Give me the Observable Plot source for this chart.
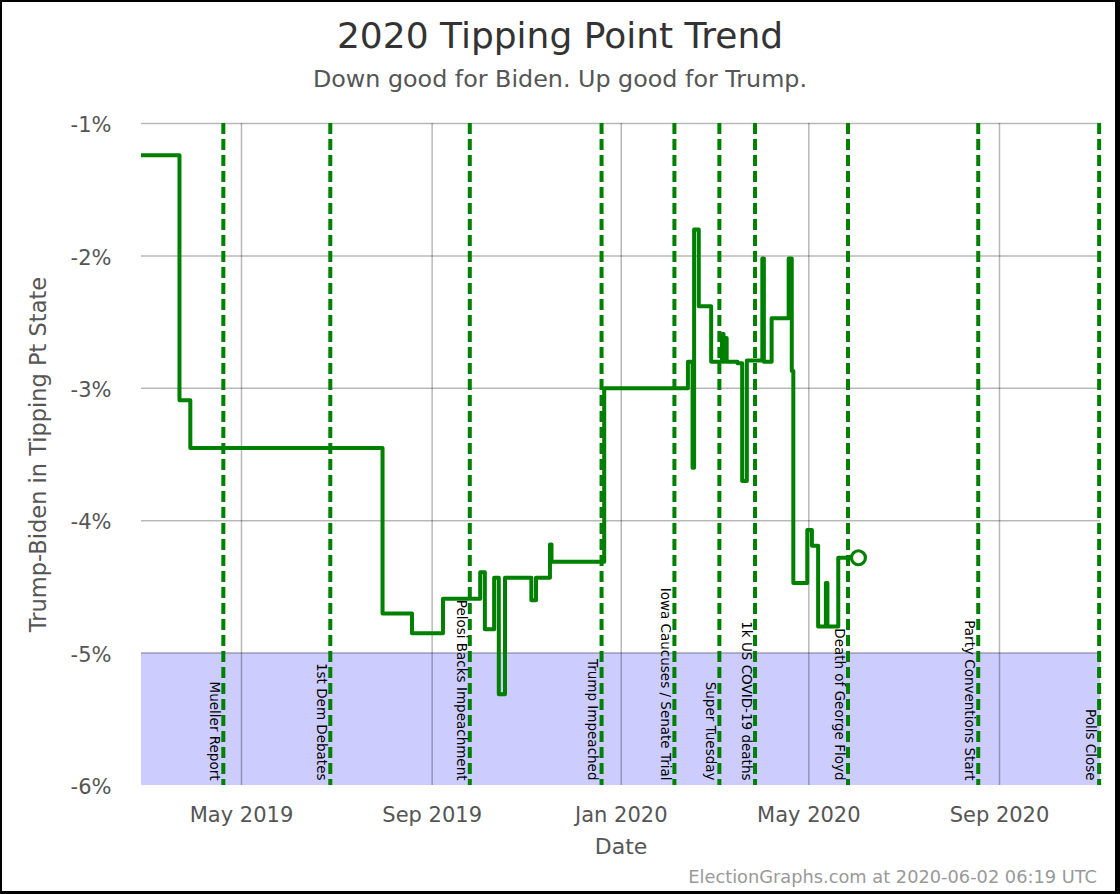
<!DOCTYPE html>
<html><head><meta charset="utf-8">
<script src="https://cdn.jsdelivr.net/npm/d3@7"></script>
<script src="https://cdn.jsdelivr.net/npm/@observablehq/plot@0.6"></script>
<style>
html,body{margin:0;padding:0;background:#fff;}
#wrap{position:relative;width:1120px;height:894px;overflow:hidden;font-family:"DejaVu Sans",sans-serif;background:#fff;}
#chart{position:absolute;left:0;top:0;}
.ttl{position:absolute;left:0;width:1120px;text-align:center;line-height:1;white-space:nowrap;}
#title{top:18px;font-size:36px;color:#333;}
#subtitle{top:68px;font-size:23.8px;color:#555;}
#footer{position:absolute;right:23px;top:868px;font-size:17.8px;color:#999;line-height:1;white-space:nowrap;}
#frame{position:absolute;left:0;top:0;width:1120px;height:894px;box-sizing:border-box;border:2px solid #000;border-right-width:5px;border-bottom-width:3px;pointer-events:none;}
</style></head>
<body>
<div id="wrap">
  <div id="chart"></div>
  <div id="title" class="ttl">2020 Tipping Point Trend</div>
  <div id="subtitle" class="ttl">Down good for Biden. Up good for Trump.</div>
  <div id="footer">ElectionGraphs.com at 2020-06-02 06:19 UTC</div>
  <div id="frame"></div>
</div>
<script>
// ---- data ----
const trendDates = [
  "2019-02-25","2019-03-22","2019-03-29","2019-07-31","2019-08-19","2019-09-08",
  "2019-10-02","2019-10-05","2019-10-11","2019-10-14","2019-10-18","2019-11-04",
  "2019-11-07","2019-11-16","2019-11-17","2019-12-21","2020-02-13","2020-02-16",
  "2020-02-17","2020-02-20","2020-02-28","2020-03-06","2020-03-07","2020-03-08",
  "2020-03-09","2020-03-16","2020-03-19","2020-03-22","2020-04-01","2020-04-02",
  "2020-04-07","2020-04-18","2020-04-20","2020-04-21","2020-04-30","2020-05-03",
  "2020-05-07","2020-05-12","2020-05-13","2020-05-20","2020-06-02"
];
const trendValues = [
  -1.24,-3.09,-3.45,-4.70,-4.85,-4.59,
  -4.39,-4.82,-4.43,-5.31,-4.43,-4.60,
  -4.43,-4.18,-4.31,-3.00,-2.80,-3.60,
  -1.80,-2.38,-2.80,-2.59,-2.80,-2.62,
  -2.80,-2.81,-3.70,-2.79,-2.02,-2.80,
  -2.47,-2.02,-2.87,-4.47,-4.07,-4.19,
  -4.80,-4.47,-4.80,-4.28,-4.28
];
const eventDates = ["2019-04-18","2019-06-26","2019-09-24","2019-12-18","2020-02-03","2020-03-03","2020-03-26","2020-05-25","2020-08-17","2020-11-03"];
const eventNames = ["Mueller Report","1st Dem Debates","Pelosi Backs Impeachment","Trump Impeached","Iowa Caucuses / Senate Trial","Super Tuesday","1k US COVID-19 deaths","Death of George Floyd","Party Conventions Start","Polls Close"];
const xTickDates = ["2019-05-01","2019-09-01","2020-01-01","2020-05-01","2020-09-01"];
const yTickValues = [-1,-2,-3,-4,-5,-6];
const gridYValues = [-1,-2,-3,-4,-5];
const xDomain = ["2019-02-25T12:00Z","2020-11-05T04:00Z"];
const yDomain = [-6,-1];
const bandLow = -6, bandHigh = -5;
const xLabel = "Date";
const yLabel = "Trump-Biden in Tipping Pt State";

// ---- tables ----
const parse = s => new Date(s.length === 10 ? s + "T00:00Z" : s);
const series = trendDates.map((d,i) => ({date: parse(d), value: trendValues[i]}));
const events = eventDates.map((d,i) => ({date: parse(d), name: eventNames[i]}));
const xTicks = xTickDates.map(parse);
const band = [{x1: parse(xDomain[0]), x2: parse(xDomain[1]), y1: bandLow, y2: bandHigh}];
const last = [series[series.length-1]];
const green = "#008000";

const chart = Plot.plot({
  width: 1120, height: 894,
  marginTop: 123, marginBottom: 109, marginLeft: 141, marginRight: 20,
  x: {type: "utc", domain: xDomain.map(parse)},
  y: {domain: yDomain},
  style: {fontFamily: "DejaVu Sans, sans-serif", background: "transparent", overflow: "visible"},
  marks: [
    Plot.rect(band, {x1: "x1", x2: "x2", y1: "y1", y2: "y2", fill: "#ccccff"}),
    Plot.gridX(xTicks, {stroke: "black", strokeOpacity: 0.28, strokeWidth: 1.5}),
    Plot.gridY(gridYValues, {stroke: "black", strokeOpacity: 0.28, strokeWidth: 1.5}),
    Plot.ruleX(events, {x: "date", dx: 2, stroke: green, strokeWidth: 4, strokeDasharray: "11,5"}),
    Plot.text(events, {x: "date", y: () => bandLow, text: "name", rotate: 90, textAnchor: "end", lineAnchor: "top", dx: -1.5, dy: -5, fontSize: 13.5, fill: "black"}),
    Plot.line(series, {x: "date", y: "value", curve: "step-after", stroke: green, strokeWidth: 4, clip: true}),
    Plot.dot(last, {x: "date", y: "value", r: 7, stroke: green, strokeWidth: 3.2, fill: "white"}),
    Plot.axisX(xTicks, {tickSize: 0, tickPadding: 22, fontSize: 21, color: "#555", tickFormat: d3.utcFormat("%b %Y"), label: null}),
    Plot.axisY(yTickValues, {tickSize: 0, tickPadding: 30, dy: 2, fontSize: 21, color: "#555", tickFormat: d => "-" + Math.abs(d) + "%", label: null}),
    Plot.text([xLabel], {frameAnchor: "bottom", dy: 68, text: d => d, fontSize: 22, fill: "#555"}),
    Plot.text([yLabel], {frameAnchor: "left", dx: -103, rotate: -90, textAnchor: "middle", text: d => d, fontSize: 22.5, fill: "#555"})
  ]
});
document.getElementById("chart").appendChild(chart);
</script>
</body></html>
